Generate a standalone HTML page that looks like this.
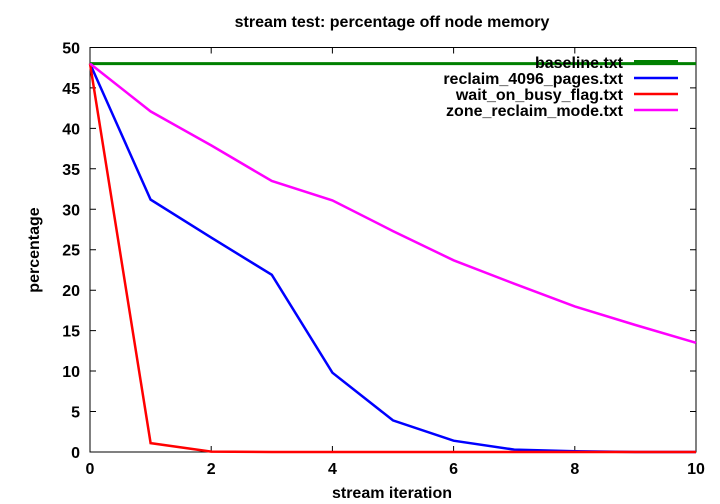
<!DOCTYPE html>
<html><head><style>body{margin:0;background:#fff}svg{display:block}text{font-family:"Liberation Sans",sans-serif;font-weight:bold;font-size:16px;fill:#000}</style></head><body>
<svg width="720" height="504" viewBox="0 0 720 504">
<text x="392" y="27" text-anchor="middle" font-size="15">stream test: percentage off node memory</text>
<g stroke="#000" stroke-width="1">
<rect x="90" y="47.5" width="606" height="404.5" fill="none"/>
<path d="M90 411.5h6M690 411.5h6M90 371h6M690 371h6M90 330.6h6M690 330.6h6M90 290.2h6M690 290.2h6M90 249.7h6M690 249.7h6M90 209.3h6M690 209.3h6M90 168.8h6M690 168.8h6M90 128.4h6M690 128.4h6M90 87.9h6M690 87.9h6"/>
<path d="M211.2 452v-6M211.2 47.5v6M332.4 452v-6M332.4 47.5v6M453.6 452v-6M453.6 47.5v6M574.8 452v-6M574.8 47.5v6"/>
</g>
<g text-anchor="end">
<text x="80" y="458">0</text><text x="80" y="417.5">5</text><text x="80" y="377">10</text><text x="80" y="336.6">15</text><text x="80" y="296.2">20</text><text x="80" y="255.7">25</text><text x="80" y="215.3">30</text><text x="80" y="174.8">35</text><text x="80" y="134.4">40</text><text x="80" y="93.9">45</text><text x="80" y="53.5">50</text>
</g>
<g text-anchor="middle">
<text x="90" y="474">0</text><text x="211.2" y="474">2</text><text x="332.4" y="474">4</text><text x="453.6" y="474">6</text><text x="574.8" y="474">8</text><text x="696" y="474">10</text>
<text x="392" y="498">stream iteration</text>
</g>
<text transform="translate(39 250) rotate(-90)" text-anchor="middle">percentage</text>
<g fill="none" stroke-width="2.5">
<polyline stroke="#008000" stroke-width="3" points="90,63.6 696,63.6"/>
<polyline stroke="#0000ff" points="90,63.6 150.6,199.6 211.2,237.6 271.8,274.8 332.4,372.7 393,420.4 453.6,440.7 514.2,449.6 574.8,451.2 635.4,452 696,452"/>
<polyline stroke="#ff0000" points="90,63.6 150.6,443.1 211.2,451.6 271.8,452 696,452"/>
<polyline stroke="#ff00ff" points="90,63.6 150.6,111.4 211.2,145.4 271.8,181 332.4,200.4 393,231.1 453.6,260.3 514.2,283.7 574.8,306.4 635.4,325 696,342.8"/>
</g>
<g text-anchor="end">
<text x="623" y="68">baseline.txt</text>
<text x="623" y="84">reclaim_4096_pages.txt</text>
<text x="623" y="100">wait_on_busy_flag.txt</text>
<text x="623" y="116">zone_reclaim_mode.txt</text>
</g>
<g stroke-width="2.5">
<line x1="634" y1="62" x2="678" y2="62" stroke="#008000" stroke-width="4"/>
<line x1="634" y1="78" x2="678" y2="78" stroke="#0000ff"/>
<line x1="634" y1="94" x2="678" y2="94" stroke="#ff0000"/>
<line x1="634" y1="110" x2="678" y2="110" stroke="#ff00ff"/>
</g>
</svg>
</body></html>
